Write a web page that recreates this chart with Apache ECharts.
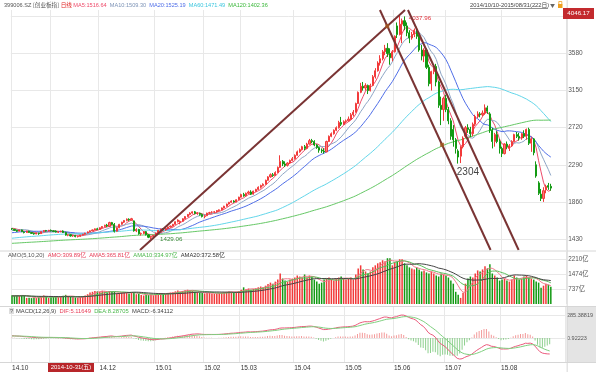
<!DOCTYPE html>
<html><head><meta charset="utf-8">
<script src="https://cdn.jsdelivr.net/npm/echarts@6/dist/echarts.min.js"></script>
<style>html,body{margin:0;padding:0;background:#fff}#c{width:596px;height:372px}</style>
</head><body><div id="c"></div>
<script>
// ---------- data ----------
const tradingDays = {
  '2014-10':[10,13,14,15,16,17,20,21,22,23,24,27,28,29,30,31],
  '2014-11':[3,4,5,6,7,10,11,12,13,14,17,18,19,20,21,24,25,26,27,28],
  '2014-12':[1,2,3,4,5,8,9,10,11,12,15,16,17,18,19,22,23,24,25,26,29,30,31],
  '2015-01':[5,6,7,8,9,12,13,14,15,16,19,20,21,22,23,26,27,28,29,30],
  '2015-02':[2,3,4,5,6,9,10,11,12,13,16,17,25,26,27],
  '2015-03':[2,3,4,5,6,9,10,11,12,13,16,17,18,19,20,23,24,25,26,27,30,31],
  '2015-04':[1,2,3,7,8,9,10,13,14,15,16,17,20,21,22,23,24,27,28,29,30],
  '2015-05':[4,5,6,7,8,11,12,13,14,15,18,19,20,21,22,25,26,27,28,29],
  '2015-06':[1,2,3,4,5,8,9,10,11,12,15,16,17,18,19,23,24,25,26,29,30],
  '2015-07':[1,2,3,6,7,8,9,10,13,14,15,16,17,20,21,22,23,24,27,28,29,30,31],
  '2015-08':[3,4,5,6,7,10,11,12,13,14,17,18,19,20,21,24,25,26,27,28,31]
};
// estimated closes before 2014-10-10 (needed only to warm up MA60/MA120/MACD)
const preCloses = [1340,1335,1325,1318,1310,1305,1300,1310,1315,1320,1312,1305,1298,1302,1310,1318,
 1305,1298,1290,1285,1292,1300,1295,1288,1296,1305,1310,1302,1308,1315,1320,1312,1318,1325,1322,1316,
 1320,1328,1335,1330,1325,1318,1322,1330,1338,1342,1336,1330,1325,1332,1340,1345,1338,1346,1352,1348,
 1355,1350,1345,1358,1362,1356,1350,1360,1368,1365,1370,1362,1368,1375,1380,1372,1378,1385,1390,1382,
 1388,1395,1402,1398,1405,1412,1408,1415,1420,1418,1425,1430,1428,1435,1440,1436,1442,1448,1445,1450,
 1455,1460,1452,1458,1465,1470,1462,1468,1475,1472,1478,1485,1480,1490,1495,1500,1492,1498,1505,1510,
 1545,1560,1565,1558];
const preAmounts = [350,380,420,400,360,390,410,430,380,370,400,420,390,360,400,380,410,400,392];
// [open, close, low, high]
const ohlc = [
 [1550,1545,1535,1558],[1542,1530,1525,1548],[1530,1520,1512,1536],[1522,1535,1518,1538],[1535,1515,1510,1540],[1512,1505,1495,1520],[1505,1522,1502,1525],[1520,1505,1500,1526],[1506,1495,1490,1512],[1495,1488,1480,1502],[1488,1500,1485,1505],[1498,1492,1478,1503],[1493,1515,1490,1518],[1515,1528,1510,1532],[1528,1522,1515,1535],[1522,1530,1518,1536],
 [1530,1525,1518,1540],[1524,1518,1510,1530],[1520,1510,1505,1530],[1508,1515,1500,1520],[1515,1520,1508,1526],[1522,1505,1500,1530],[1505,1475,1468,1515],[1474,1480,1462,1485],[1480,1465,1458,1484],[1466,1470,1455,1475],[1472,1458,1450,1478],[1458,1462,1448,1468],[1462,1475,1455,1478],[1476,1485,1470,1490],[1485,1498,1480,1502],[1500,1512,1495,1518],[1512,1525,1508,1530],[1525,1535,1520,1540],[1535,1548,1530,1552],[1548,1540,1532,1560],
 [1540,1560,1535,1565],[1560,1575,1550,1580],[1575,1590,1565,1595],[1590,1580,1570,1605],[1575,1620,1570,1630],[1620,1600,1590,1628],[1600,1520,1505,1615],[1520,1560,1515,1565],[1560,1600,1555,1605],[1600,1625,1595,1630],[1625,1645,1615,1650],[1645,1660,1635,1668],[1658,1650,1640,1670],[1650,1665,1645,1675],[1640,1525,1515,1645],[1525,1540,1510,1555],[1540,1490,1480,1548],[1490,1495,1470,1505],[1495,1515,1485,1520],[1515,1480,1470,1522],[1478,1450,1440,1485],[1450,1460,1429.06,1468],[1460,1472,1452,1478],
 [1472,1500,1465,1505],[1500,1530,1495,1535],[1530,1545,1520,1550],[1545,1535,1528,1555],[1535,1550,1525,1560],[1550,1570,1545,1575],[1570,1580,1562,1585],[1580,1600,1575,1605],[1600,1630,1595,1635],[1630,1650,1622,1658],[1620,1635,1600,1645],[1635,1665,1630,1670],[1665,1690,1658,1695],[1690,1715,1685,1720],[1715,1730,1705,1740],[1730,1745,1722,1750],[1745,1725,1715,1755],[1725,1735,1710,1742],[1728,1715,1700,1735],[1715,1690,1680,1725],
 [1690,1700,1670,1710],[1700,1730,1695,1735],[1730,1735,1720,1745],[1740,1740,1725,1752],[1740,1745,1728,1755],[1745,1760,1735,1765],[1760,1768,1750,1772],[1768,1790,1762,1795],[1790,1810,1785,1815],[1810,1835,1805,1840],[1835,1855,1830,1860],[1855,1870,1848,1878],[1870,1860,1850,1880],[1860,1885,1855,1890],[1885,1915,1880,1920],
 [1915,1945,1910,1955],[1945,1930,1920,1965],[1930,1960,1925,1968],[1960,1975,1950,1990],[1975,1950,1940,1995],[1950,1985,1945,1990],[1985,2005,1978,2012],[2005,2030,1998,2040],[2030,2050,2015,2060],[2050,2065,2040,2075],[2065,2110,2060,2118],[2110,2150,2105,2158],[2150,2175,2140,2190],[2175,2165,2150,2195],[2165,2200,2160,2215],[2200,2260,2195,2270],[2260,2330,2255,2400],[2330,2300,2275,2345],[2300,2285,2265,2330],[2285,2310,2270,2320],[2310,2340,2300,2350],[2340,2360,2330,2380],
 [2360,2400,2350,2410],[2400,2440,2395,2455],[2440,2465,2430,2480],[2465,2500,2455,2510],[2500,2480,2460,2520],[2480,2530,2470,2545],[2530,2570,2525,2590],[2570,2560,2540,2590],[2560,2520,2505,2575],[2520,2490,2475,2530],[2490,2460,2430,2500],[2460,2450,2427,2480],[2450,2440,2420,2480],[2440,2560,2435,2570],[2560,2620,2555,2630],[2620,2650,2610,2665],[2650,2690,2640,2700],[2690,2720,2680,2735],[2720,2780,2710,2800],[2780,2760,2740,2845],[2760,2790,2750,2805],
 [2790,2800,2775,2815],[2800,2820,2790,2850],[2820,2870,2810,2890],[2870,2900,2850,2925],[2900,3000,2895,3010],[3000,3130,2995,3140],[3130,3200,3120,3240],[3200,3180,3150,3250],[3180,3210,3150,3235],[3210,3150,3110,3220],[3150,3210,3140,3230],[3210,3310,3200,3330],[3310,3380,3290,3410],[3380,3470,3370,3490],[3470,3520,3440,3560],[3520,3600,3500,3620],[3600,3640,3560,3680],[3640,3580,3540,3700],[3580,3530,3450,3640],[3530,3600,3490,3620],
 [3600,3780,3590,3790],[3900,3800,3760,3940],[3800,3920,3790,4037.96],[3920,3960,3700,3985],[3960,3900,3850,4010],[3900,3820,3780,3940],[3820,3760,3700,3850],[3760,3800,3740,3830],[3800,3850,3770,3870],[3860,3780,3750,3890],[3780,3620,3600,3800],[3620,3550,3500,3680],[3550,3620,3480,3640],[3620,3420,3400,3640],[3420,3230,3200,3450],[3230,3370,3150,3380],[3370,3430,3340,3440],[3430,3250,3200,3460],[3250,2980,2950,3260],[2980,2930,2750,3080],[2930,3060,2800,3080],
 [3060,2930,2900,3100],[2930,2800,2760,2960],[2800,2620,2580,2830],[2700,2580,2500,2750],[2580,2480,2420,2600],[2450,2380,2304,2470],[2390,2500,2310,2510],[2500,2600,2480,2620],[2620,2720,2600,2740],[2720,2700,2660,2760],[2700,2650,2610,2730],[2650,2760,2620,2780],[2760,2850,2740,2870],[2850,2880,2830,2910],[2880,2870,2840,2900],[2870,2890,2850,2920],[2890,2950,2870,2990],[2950,2910,2880,2975],[2880,2690,2660,2900],[2690,2560,2480,2720],[2560,2640,2500,2660],[2640,2560,2540,2680],[2560,2480,2420,2590],
 [2480,2420,2380,2500],[2420,2530,2410,2540],[2530,2500,2470,2560],[2480,2510,2450,2530],[2510,2560,2500,2575],[2560,2640,2550,2650],[2640,2620,2600,2670],[2620,2600,2570,2660],[2600,2650,2580,2660],[2650,2620,2600,2690],[2620,2700,2580,2710],[2700,2540,2520,2720],[2540,2590,2440,2610],[2590,2430,2400,2600],[2290,2160,2140,2330],[2080,1960,1940,2100],[1950,1900,1870,2010],[1900,1990,1860,2030],[2000,2040,1960,2060],[2050,2030,2000,2080],[2040,2020,1990,2070]
];
// turnover, 亿
const amounts = [
 430,410,420,400,440,420,300,310,290,320,300,340,380,420,380,310,
 330,350,380,340,360,400,450,380,360,330,320,310,340,380,420,480,560,600,640,620,
 600,650,620,560,640,600,620,520,540,560,580,560,520,560,580,480,500,440,420,460,440,470,430,
 480,520,540,520,500,540,560,580,620,660,600,640,680,700,680,640,600,580,560,540,
 520,540,560,520,500,520,540,560,580,600,620,600,560,600,640,
 700,820,720,760,700,740,780,820,860,820,900,980,1050,1000,1100,1200,1500,1250,1150,1100,1200,1250,
 1300,1400,1350,1300,1450,1300,1400,1350,1200,1100,1000,1050,1200,1250,1300,1200,1150,1250,1300,1350,1250,
 1200,1250,1300,1200,1450,1750,1900,1700,1600,1500,1600,1800,1900,2000,2050,2150,2100,2250,2250,1900,
 2050,2100,2200,2200,2000,1900,1800,1750,1700,1800,1700,1600,1650,1550,1500,1600,1500,1400,1350,1500,1450,
 1400,1300,1150,1000,600,450,300,550,1000,1250,1350,1300,1500,1650,1600,1700,1850,1750,1950,1500,1400,1300,1150,
 1200,1250,1150,1100,1200,1400,1300,1200,1250,1350,1400,1300,1250,1200,1100,1050,800,900,1000,950,850
];
const priceTicks = [1430,1860,2290,2720,3150,3580,4010];
const volTicks = [737,1474,2210];
const macdTicks = [0.92223,285.38819];
// user-drawn channel lines: [[dayIndex, price],[dayIndex, price]]
const channelLines = [
 [[52.5,1302.5],[161.2,4084]],
 [[150.9,4084],[196.3,1302.5]],
 [[162.4,4084],[207.8,1302.5]]
];
const channelDots = [[153.9,3897],[176.4,2522]];
const highMark = {day:159, value:4037.96};
const lowMark = {day:57, value:1429.06};
const noteMark = {day:187, value:2207, text:'2304'};
const PAD = 6;

// ---------- build ----------
const cats = [];
const monthStart = new Set();
Object.keys(tradingDays).forEach(m => {
  tradingDays[m].forEach((d, k) => {
    if (k === 0) monthStart.add(cats.length);
    cats.push(m + '-' + String(d).padStart(2,'0'));
  });
});
for (let i = 0; i < PAD; i++) cats.push('');

const N = ohlc.length, P = preCloses.length;
const allCloses = preCloses.concat(ohlc.map(d => d[1]));
function ma(src, off, n) {
  const out = [];
  for (let i = 0; i < N; i++) {
    const j = i + off; let s = 0;
    for (let k = j - n + 1; k <= j; k++) s += src[k];
    out.push(+(s / n).toFixed(2));
  }
  return out;
}
function ema(arr, n) {
  const a = 2 / (n + 1); const out = []; let e = arr[0];
  arr.forEach((v, i) => { e = i === 0 ? v : a * v + (1 - a) * e; out.push(e); });
  return out;
}
const e12 = ema(allCloses, 12), e26 = ema(allCloses, 26);
const difAll = e12.map((v, i) => v - e26[i]);
const deaAll = ema(difAll, 9);
const dif = difAll.slice(P), dea = deaAll.slice(P);
const hist = dif.map((v, i) => 2 * (v - dea[i]));
const allAmt = preAmounts.concat(amounts);
const PA = preAmounts.length;

const UP = '#f23a3a', DOWN = '#139a13';
const FF = 'Liberation Sans, Noto Sans CJK SC, sans-serif';
const FC = 'Noto Sans CJK SC, sans-serif';
const GL = 10.8, GR = 596 - (10.8 + 2.438 * cats.length);

function catAxis(gi, showLabel) {
  return {
    type: 'category', gridIndex: gi, data: cats, boundaryGap: true,
    axisLine: {show: false}, axisTick: {show: false},
    axisLabel: {show: showLabel, interval: (i) => monthStart.has(i), align: 'left', margin: 3,
      fontSize: 6.5, color: '#333', fontFamily: FF,
      formatter: v => v ? v.slice(2,4) + '.' + v.slice(5,7) : ''},
    splitLine: {show: true, interval: (i) => monthStart.has(i), lineStyle: {color: '#e8e8e8', width: 1}}
  };
}
function valAxis(gi, min, max, ticks, fmt, fs) {
  return {
    type: 'value', gridIndex: gi, position: 'right', min, max, scale: true,
    axisLine: {show: false}, axisTick: {show: false, customValues: ticks},
    axisLabel: {customValues: ticks, fontSize: fs || 6.5, color: '#555', margin: 1.5, fontFamily: FF, formatter: fmt,
      overflow: 'none', hideOverlap: false, showMinLabel: true, showMaxLabel: true},
    splitLine: {show: true, lineStyle: {color: '#e8e8e8', width: 1}}
  };
}
const maLine = (name, data, color) => ({
  name, type: 'line', xAxisIndex: 0, yAxisIndex: 0, data, symbol: 'none', silent: true,
  lineStyle: {color, width: 1}, z: 3
});

const series = [
  {
    type: 'candlestick', xAxisIndex: 0, yAxisIndex: 0, data: ohlc, barWidth: '66%',
    itemStyle: {color: '#f77a7a', color0: DOWN, borderColor: UP, borderColor0: DOWN, borderWidth: 1},
    z: 4,
    markPoint: {
      symbol: 'circle', symbolSize: 0.1, animation: false, silent: true,
      data: [
        {coord: [cats[highMark.day], highMark.value], label: {show: true, formatter: highMark.value.toFixed(2), position: 'right', distance: 9, offset: [0, 4], color: '#e0303a', fontSize: 6.2, fontFamily: FF}},
        {coord: [cats[lowMark.day], lowMark.value], label: {show: true, formatter: lowMark.value.toFixed(2), position: 'right', distance: 9, offset: [0, 0], color: '#3a8a3a', fontSize: 6.2, fontFamily: FF}},
        {coord: [cats[noteMark.day], noteMark.value], label: {show: true, formatter: noteMark.text, position: 'inside', color: '#444', fontSize: 10, fontFamily: FF}}
      ]
    }
  },
  maLine('MA5', ma(allCloses, P, 5), '#ee4a6a'),
  maLine('MA10', ma(allCloses, P, 10), '#8ea6c6'),
  maLine('MA20', ma(allCloses, P, 20), '#4f6ee8'),
  maLine('MA60', ma(allCloses, P, 60), '#62d6ea'),
  maLine('MA120', ma(allCloses, P, 120), '#66c866')
];
channelLines.forEach(l => series.push({
  type: 'line', xAxisIndex: 3, yAxisIndex: 0, data: l, symbol: 'none', silent: true, clip: true,
  lineStyle: {color: '#7a3434', width: 2}, z: 6
}));
series.push({type: 'scatter', xAxisIndex: 3, yAxisIndex: 0, data: channelDots, symbol: 'rect', symbolSize: 4,
  itemStyle: {color: '#a4581e'}, silent: true, z: 7});
series.push({
  type: 'bar', xAxisIndex: 1, yAxisIndex: 1, barWidth: '62%', silent: true,
  data: amounts.map((v, i) => ({value: v, itemStyle: {color: ohlc[i][1] >= ohlc[i][0] ? UP : DOWN}}))
});
[['AMA5', 5, '#f07a8a'], ['AMA10', 10, '#5cbf5c'], ['AMA20', 20, '#444444']].forEach(([n, k, c]) => series.push({
  name: n, type: 'line', xAxisIndex: 1, yAxisIndex: 1, data: ma(allAmt, PA, k), symbol: 'none', silent: true,
  lineStyle: {color: c, width: 1}, z: 3
}));
series.push({
  type: 'bar', xAxisIndex: 2, yAxisIndex: 2, barWidth: 1, silent: true,
  data: hist.map(v => ({value: +v.toFixed(3), itemStyle: {color: v >= 0 ? '#f39a9a' : '#8ed08e'}}))
});
series.push({type: 'line', xAxisIndex: 2, yAxisIndex: 2, data: dif.map(v => +v.toFixed(3)), symbol: 'none', silent: true, lineStyle: {color: '#ec5a7c', width: 1}, z: 3});
series.push({type: 'line', xAxisIndex: 2, yAxisIndex: 2, data: dea.map(v => +v.toFixed(3)), symbol: 'none', silent: true, lineStyle: {color: '#7fd07f', width: 1}, z: 3});

function rich(x, y, parts, size) {
  const r = {}; let text = '';
  parts.forEach((p, i) => {
    r['s' + i] = {fill: p[1], fontSize: size, fontFamily: p[2] || FF};
    text += (i ? ' ' : '') + '{s' + i + '|' + p[0] + '}';
  });
  return {type: 'text', x, y, silent: true, z: 50,
    style: {text, rich: r, fontSize: size, fontFamily: FF, textVerticalAlign: 'middle', textAlign: 'left'}};
}
function txt(x, y, text, color, size, align, ff) {
  return {type: 'text', x, y, silent: true, z: 50,
    style: {text, fill: color, fontSize: size, fontFamily: ff || FF, textVerticalAlign: 'middle', textAlign: align || 'left'}};
}
const RX = 596 - GR;
const graphics = [
  {type: 'rect', silent: true, z: -10, shape: {x: RX, y: 307, width: 596 - RX, height: 55}, style: {fill: '#e4e4e4'}},
  {type: 'line', silent: true, z: 40, shape: {x1: 0, y1: 251, x2: 596, y2: 251}, style: {stroke: '#d6d6d6', lineWidth: 1}},
  {type: 'line', silent: true, z: 40, shape: {x1: 0, y1: 306.5, x2: 596, y2: 306.5}, style: {stroke: '#d6d6d6', lineWidth: 1}},
  {type: 'line', silent: true, z: 40, shape: {x1: 0, y1: 362.5, x2: 596, y2: 362.5}, style: {stroke: '#d6d6d6', lineWidth: 1}},
  {type: 'line', silent: true, z: 40, shape: {x1: RX + 0.5, y1: 0, x2: RX + 0.5, y2: 372}, style: {stroke: '#d6d6d6', lineWidth: 1}},
  rich(4, 5, [['399006.SZ', '#555'], ['[创业板指]', '#555', FC], ['日线', '#e02020', FC], ['MA5:1516.64 ', '#ee4a6a'], ['MA10:1509.30 ', '#7d93b6'],
    ['MA20:1525.19 ', '#4f6ee8'], ['MA60:1471.49 ', '#3cc6de'], ['MA120:1402.36', '#3cb83c']], 5.6),
  txt(470, 5, '2014/10/10-2015/08/31(222日)', '#444', 5.8),
  {type: 'line', silent: true, z: 50, shape: {x1: 470, y1: 8.5, x2: 548, y2: 8.5}, style: {stroke: '#444', lineWidth: 0.6}},
  txt(550, 5, '▼', '#666', 5, 'left', FC),
  {type: 'rect', silent: true, z: 50, shape: {x: 558, y: 4, width: 4.5, height: 4}, style: {fill: '#f0a020'}},
  {type: 'rect', silent: true, z: 50, shape: {x: 558.8, y: 1.5, width: 3, height: 3}, style: {fill: 'none', stroke: '#f0a020', lineWidth: 0.8}},
  {type: 'rect', silent: true, z: 50, shape: {x: 563, y: 8, width: 31, height: 11}, style: {fill: '#c32a2e'}},
  txt(578.5, 13.5, '4046.17', '#fff', 6.2, 'center'),
  rich(8, 255.5, [['AMO(5,10,20)', '#555'], [' AMO:309.89亿', '#e8405a'], [' AMA5:365.81亿', '#e8405a'], [' AMA10:334.97亿', '#4cb84c'], [' AMA20:372.58亿', '#333']], 5.8),
  {type: 'rect', silent: true, z: 50, shape: {x: 9, y: 308, width: 5, height: 6}, style: {fill: '#ddd'}},
  txt(10, 311, '?', '#555', 5.5),
  rich(16, 311, [['MACD(12,26,9)', '#444'], [' DIF:5.11649', '#e8405a'], [' DEA:8.28705', '#4cb84c'], [' MACD:-6.34112', '#444']], 5.8),
  {type: 'rect', silent: true, z: 60, shape: {x: 48, y: 363, width: 46, height: 9}, style: {fill: '#b8262a'}},
  Object.assign(txt(71, 367.5, '2014-10-31(五)', '#fff', 6, 'center'), {z: 61})
];

const chart = echarts.init(document.getElementById('c'), null, {renderer: 'canvas'});
chart.setOption({
  animation: false,
  backgroundColor: '#fff',
  grid: [
    {left: GL, right: GR, top: 10, height: 240},
    {left: GL, right: GR, top: 252, height: 52},
    {left: GL, right: GR, top: 307, height: 55}
  ],
  xAxis: [catAxis(0, false), catAxis(1, false), catAxis(2, true),
    {type: 'value', gridIndex: 0, min: -0.5, max: cats.length - 0.5, show: false}],
  yAxis: [
    valAxis(0, 1302.5, 4084.2, priceTicks, v => String(v)),
    valAxis(1, 0, 2555, volTicks, v => v + '亿', 6.3),
    valAxis(2, -295.9, 384.3, macdTicks, v => v.toFixed(5), 5.5)
  ],
  series,
  graphic: graphics
});
</script></body></html>
